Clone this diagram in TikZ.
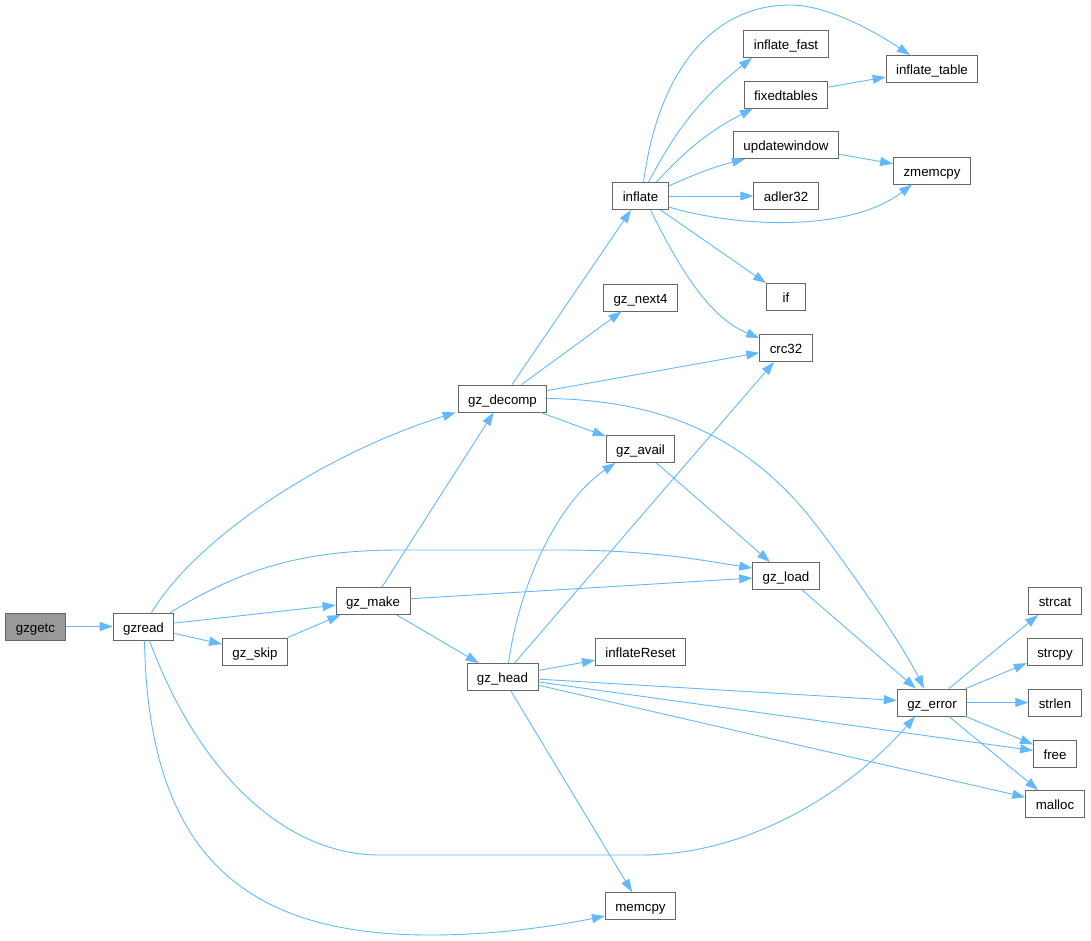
\documentclass[tikz,border=0pt]{standalone}
\usepackage{fontspec}
\setmainfont{Liberation Sans}
\usetikzlibrary{arrows.meta}
\definecolor{linkblue}{HTML}{63B8FF}
\definecolor{boxgray}{HTML}{666666}
\definecolor{rootgray}{HTML}{999999}

\begin{document}
\begin{tikzpicture}[x=1pt, y=-1pt,
  fn/.style={draw=boxgray, fill=white, line width=0.9pt, font=\fontsize{13.3}{16}\selectfont,
    minimum height=27pt, minimum width=39pt, inner xsep=10pt, inner ysep=0pt,
    text height=11pt, text depth=0pt},
  root/.style={fn, fill=rootgray},
  call/.style={linkblue, line width=0.9pt, ->, >={Triangle[length=13pt,width=9pt]}}]
  \useasboundingbox (0,0) rectangle (1091,940);
  % functions, one column per rank
  \node[root] (gzgetc) at (35.5,626.5) {gzgetc};
  \node[fn] (gzread) at (143.5,626.5) {gzread};
  \node[fn] (gzskip) at (255,651.5) {gz\_skip};
  \node[fn] (gzmake) at (373,601) {gz\_make};
  \node[fn] (gzdecomp) at (502.5,398.5) {gz\_decomp};
  \node[fn] (gzhead) at (502.5,677) {gz\_head};
  \node[fn] (inflate) at (640.5,196) {inflate};
  \node[fn] (gznext) at (640.5,297.5) {gz\_next4};
  \node[fn] (gzavail) at (640.5,449) {gz\_avail};
  \node[fn] (inflatereset) at (640.5,652) {inflateReset};
  \node[fn] (memcpy) at (640.5,906) {memcpy};
  \node[fn] (inflatefast) at (786,44) {inflate\_fast};
  \node[fn] (fixedtables) at (786,94.5) {fixedtables};
  \node[fn] (updatewindow) at (786,145) {updatewindow};
  \node[fn] (adler) at (786,196) {adler32};
  \node[fn] (iffn) at (786,297) {if};
  \node[fn] (crc) at (786,348) {crc32};
  \node[fn] (gzload) at (786,576) {gz\_load};
  \node[fn] (inflatetable) at (932,69) {inflate\_table};
  \node[fn] (zmemcpy) at (932,170.5) {zmemcpy};
  \node[fn] (gzerror) at (932,702.5) {gz\_error};
  \node[fn] (strcat) at (1055,601) {strcat};
  \node[fn] (strcpy) at (1055,651.5) {strcpy};
  \node[fn] (strlen) at (1055,702.5) {strlen};
  \node[fn] (free) at (1055,753.5) {free};
  \node[fn] (malloc) at (1055,804) {malloc};

  % calls from gzgetc and gzread
  \draw[call] (gzgetc) -- (gzread);
  \draw[call] ([xshift=8pt]gzread.north) .. controls (195,540) and (320,455) .. ([xshift=-2pt]gzdecomp.south west);
  \draw[call] ([xshift=-4pt]gzread.north east) .. controls (240,570) and (300,550) .. (400,550)
    -- (560,550) .. controls (650,550) and (700,560) .. ([yshift=8pt]gzload.west);
  \draw[call] (gzread) -- (gzmake);
  \draw[call] (gzread) -- (gzskip);
  \draw[call] ([xshift=6pt]gzread.south) .. controls (195,765) and (280,855) .. (380,855)
    -- (640,855) .. controls (760,855) and (860,780) .. ([xshift=-17pt]gzerror.south);
  \draw[call] ([xshift=1pt]gzread.south) .. controls (148,860) and (250,935) .. (430,935)
    .. controls (500,935) and (560,925) .. ([yshift=-10pt]memcpy.west);
  \draw[call] (gzskip) -- (gzmake);
  % gz_make
  \draw[call] (gzmake) -- (gzdecomp);
  \draw[call] (gzmake) -- (gzload);
  \draw[call] (gzmake) -- (gzhead);
  % gz_decomp
  \draw[call] (gzdecomp) -- (inflate);
  \draw[call] (gzdecomp) -- (gznext);
  \draw[call] (gzdecomp) -- (crc);
  \draw[call] (gzdecomp) -- (gzavail);
  \draw[call] (gzdecomp.east) .. controls (680,400) and (760,450) .. (820,530)
    .. controls (850,570) and (900,640) .. ([xshift=-8pt]gzerror.north);
  % gz_head
  \draw[call] ([xshift=6pt]gzhead.north) .. controls (520,580) and (560,500) .. ([xshift=-25pt]gzavail.south);
  \draw[call] (gzhead) -- (crc);
  \draw[call] (gzhead) -- (inflatereset);
  \draw[call] (gzhead) -- (gzerror);
  \draw[call] (gzhead) -- (free);
  \draw[call] (gzhead) -- (malloc);
  \draw[call] (gzhead) -- (memcpy);
  \draw[call] (gzavail) -- (gzload);
  \draw[call] (gzload) -- (gzerror);
  % inflate
  \draw[call] ([xshift=3pt]inflate.north) .. controls (660,60) and (720,5) .. (790,5)
    .. controls (830,5) and (880,35) .. ([xshift=-22pt]inflatetable.north);
  \draw[call] ([xshift=8pt]inflate.north) to[bend left=12] ([xshift=-34pt]inflatefast.south);
  \draw[call] ([xshift=16pt]inflate.north) to[bend left=10] ([xshift=-33pt]fixedtables.south);
  \draw[call] ([yshift=10pt]inflate.east) to[bend left=5] ([xshift=-41pt]updatewindow.south);
  \draw[call] (inflate) -- (adler);
  \draw[call] ([yshift=-11pt]inflate.east) .. controls (740,228) and (850,232) .. ([xshift=-20pt]zmemcpy.south);
  \draw[call] (inflate) -- (iffn);
  \draw[call] ([xshift=10pt]inflate.south) .. controls (680,270) and (710,318) .. ([yshift=10pt]crc.west);
  \draw[call] (fixedtables) -- (inflatetable);
  \draw[call] (updatewindow) -- (zmemcpy);
  % gz_error
  \foreach \callee in {strcat,strcpy,strlen,free,malloc}
    \draw[call] (gzerror) -- (\callee);
\end{tikzpicture}
\end{document}
